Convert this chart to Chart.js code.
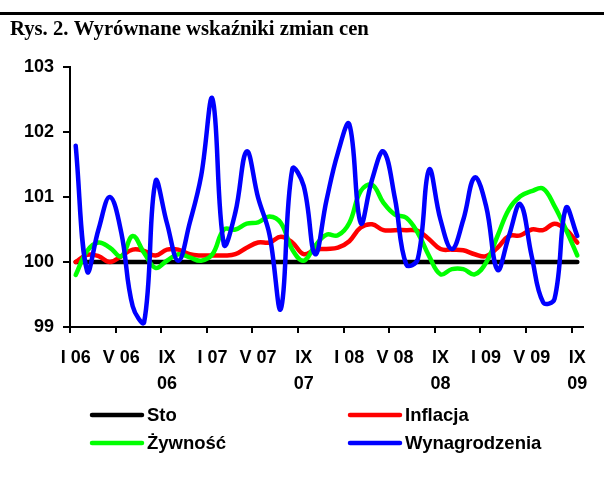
<!DOCTYPE html>
<html><head><meta charset="utf-8">
<script src="https://cdn.jsdelivr.net/npm/chart.js@4.4.1/dist/chart.umd.min.js"></script>
<style>html,body{margin:0;padding:0;background:#fff;}canvas{display:block;}</style>
</head><body>
<canvas id="c" width="604" height="493"></canvas>
<script>
const months = ['I 06','II 06','III 06','IV 06','V 06','VI 06','VII 06','VIII 06','IX 06','X 06','XI 06','XII 06',
  'I 07','II 07','III 07','IV 07','V 07','VI 07','VII 07','VIII 07','IX 07','X 07','XI 07','XII 07',
  'I 08','II 08','III 08','IV 08','V 08','VI 08','VII 08','VIII 08','IX 08','X 08','XI 08','XII 08',
  'I 09','II 09','III 09','IV 09','V 09','VI 09','VII 09','VIII 09','IX 09'];
const tickLabels = ['I 06','V 06',['IX','06'],'I 07','V 07',['IX','07'],'I 08','V 08',['IX','08'],'I 09','V 09',['IX','09']];
const sto = [100,100,100,100,100,100,100,100,100,100,100,100,100,100,100,100,100,100,100,100,100,100,100,
  100,100,100,100,100,100,100,100,100,100,100,100,100,100,100,100,100,100,100,100,100,100];
const inflacja = [100.0,100.11,100.09,100.0,100.09,100.19,100.17,100.1,100.19,100.19,100.12,100.1,
  100.1,100.1,100.12,100.22,100.3,100.3,100.39,100.3,100.12,100.19,100.2,100.22,
  100.32,100.53,100.58,100.49,100.49,100.49,100.48,100.35,100.2,100.19,100.18,100.12,
  100.09,100.22,100.4,100.41,100.5,100.49,100.59,100.5,100.3];
const zywnosc = [99.8,100.17,100.3,100.22,100.09,100.4,100.14,99.91,100.02,100.12,100.07,100.02,
  100.12,100.5,100.5,100.59,100.61,100.7,100.6,100.19,100.02,100.25,100.42,100.41,
  100.6,101.09,101.19,100.91,100.73,100.68,100.45,100.09,99.81,99.89,99.89,99.81,
  99.99,100.4,100.81,101.01,101.09,101.13,100.86,100.5,100.1];
const wynagrodzenia = [101.79,99.86,100.5,101.0,100.45,99.32,99.07,101.24,100.6,100.02,100.6,101.32,
  102.51,100.27,100.76,101.7,100.99,100.42,99.28,101.43,101.17,100.12,100.95,101.68,
  102.12,100.6,101.27,101.7,100.98,99.96,100.04,101.42,100.65,100.2,100.65,101.3,
  100.86,99.88,100.4,100.89,100.09,99.38,99.43,100.83,100.4];
const seriesNames = ['Sto','Inflacja','Żywność','Wynagrodzenia'];
const seriesColors = ['#000000','#ff0000','#00ff00','#0000ff'];
const titleText = 'Rys. 2. Wyrównane wskaźniki zmian cen';

const decor = {
  id: 'decor',
  afterDraw(chart) {
    const ctx = chart.ctx;
    ctx.save();
    ctx.fillStyle = '#000';
    ctx.fillRect(0, 12, chart.width, 3);
    ctx.font = 'bold 20.7px "Liberation Serif", "Times New Roman", serif';
    ctx.textBaseline = 'alphabetic';
    ctx.textAlign = 'left';
    ctx.fillText(titleText, 10, 35);
    const items = [
      {ds: 0, x: 92, y: 415}, {ds: 1, x: 350, y: 415},
      {ds: 2, x: 92, y: 443}, {ds: 3, x: 350, y: 443}
    ];
    ctx.font = 'bold 18.5px "Liberation Sans", Arial, sans-serif';
    ctx.textBaseline = 'middle';
    items.forEach(it => {
      const d = chart.data.datasets[it.ds];
      ctx.strokeStyle = d.borderColor; ctx.lineWidth = 4.5; ctx.lineCap = 'round';
      ctx.beginPath(); ctx.moveTo(it.x, it.y); ctx.lineTo(it.x + 50, it.y); ctx.stroke();
      ctx.fillStyle = '#000';
      ctx.fillText(d.label, it.x + 55, it.y + 1);
    });
    ctx.restore();
  }
};

const values = [sto, inflacja, zywnosc, wynagrodzenia];
const datasets = values.map((v, k) => ({
  label: seriesNames[k],
  data: v,
  borderColor: seriesColors[k],
  backgroundColor: seriesColors[k],
  borderWidth: 4.5,
  pointRadius: 0,
  tension: 0.4,
  fill: false,
  borderCapStyle: 'round',
  borderJoinStyle: 'round',
  order: 4 - k
}));

Chart.defaults.font.family = '"Liberation Sans", Arial, sans-serif';
Chart.defaults.color = '#000';

new Chart(document.getElementById('c'), {
  type: 'line',
  data: { labels: months, datasets },
  options: {
    responsive: false,
    animation: false,
    events: [],
    layout: { padding: { top: 67, right: 21, bottom: 0, left: 0 } },
    plugins: { legend: { display: false }, tooltip: { enabled: false }, title: { display: false } },
    scales: {
      x: {
        type: 'category',
        offset: true,
        afterFit(scale) { scale.height = 166; },
        border: { display: true, color: '#000', width: 2 },
        grid: {
          offset: true,
          drawOnChartArea: false,
          drawTicks: true,
          tickLength: 6,
          lineWidth: 2,
          color: (ctx) => (ctx.index % 4 === 0 ? '#000' : 'rgba(0,0,0,0)')
        },
        ticks: {
          autoSkip: false,
          maxRotation: 0,
          minRotation: 0,
          padding: 12,
          font: { size: 18, weight: 'bold', lineHeight: 1.45 },
          color: '#000',
          callback: (val, idx) => (idx % 4 === 0 ? tickLabels[idx / 4] : '')
        }
      },
      y: {
        min: 99,
        max: 103,
        afterFit(scale) { scale.width = 70; },
        border: { display: true, color: '#000', width: 2 },
        grid: { drawOnChartArea: false, drawTicks: true, tickLength: 7, lineWidth: 2, color: '#000' },
        ticks: { stepSize: 1, padding: 9, font: { size: 18, weight: 'bold' }, color: '#000' }
      }
    }
  },
  plugins: [decor]
});
</script>
</body></html>
